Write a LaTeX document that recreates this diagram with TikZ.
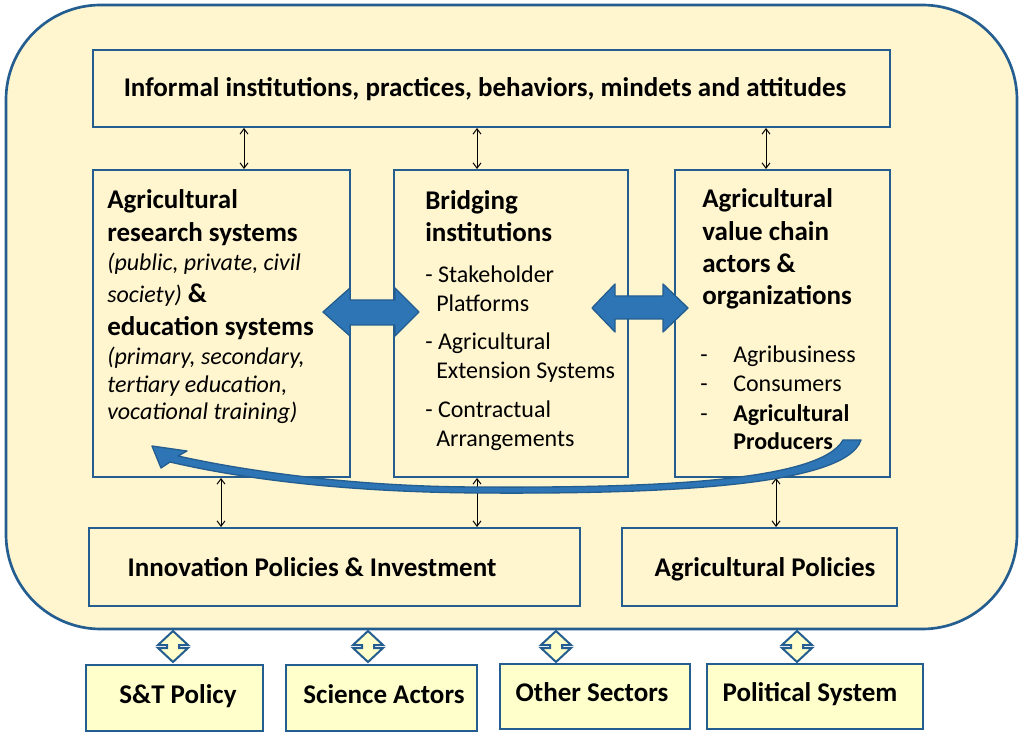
\documentclass[tikz,border=0pt]{standalone}
\usepackage{fontspec}
\setmainfont{Carlito}
\usetikzlibrary{arrows.meta,fit}
\definecolor{bgcream}{RGB}{255,245,206}
\definecolor{edgeblue}{RGB}{36,94,145}
\definecolor{lightbox}{RGB}{255,255,204}
\definecolor{arrowblue}{RGB}{46,117,182}
\newcommand\fBold{\fontsize{20.25pt}{24pt}\selectfont\bfseries}
\newcommand\fReg{\fontsize{18pt}{21pt}\selectfont}
\newcommand\fIt{\fontsize{18pt}{21pt}\selectfont\itshape}
\tikzset{
  box/.style={draw=edgeblue, line width=1.5pt, inner sep=0pt},
  extbox/.style={draw=edgeblue, line width=1.5pt, fill=lightbox, inner sep=0pt},
  txt/.style={inner sep=0pt, anchor=base west},
  ctxt/.style={inner sep=0pt, anchor=base},
  link/.style={draw=black, line width=0.75pt,
    {Straight Barb[length=4pt,width=6pt]}-{Straight Barb[length=4pt,width=6pt]}},
  blockarrow/.style={fill=arrowblue, draw=edgeblue, line width=1pt, line join=round},
  diam/.style={fill=lightbox, draw=edgeblue, line width=1.5pt, line join=miter},
}
\begin{document}
\begin{tikzpicture}[x=0.75pt,y=-0.75pt]
\useasboundingbox (0,0) rectangle (1024,737);
\fill[white] (0,0) rectangle (1024,737);

% outer frame
\node[fit={(6,5) (1017,629)}, inner sep=0pt, draw=edgeblue, line width=2pt,
      fill=bgcream, rounded corners=71pt] (outer) {};

% inner boxes
\node[box, fit={(93,50) (890,127)}] (top) {};
\node[box, fit={(93,170) (350,477)}] (lbox) {};
\node[box, fit={(394,170) (628,477)}] (mbox) {};
\node[box, fit={(675,170) (890,477)}] (rbox) {};
\node[box, fit={(89,528) (580,606)}] (innov) {};
\node[box, fit={(622,528) (897,606)}] (agpol) {};

% top text
\node[ctxt] (toptext) at (485,97) {\fBold Informal institutions, practices, behaviors, mindets and attitudes};

% left box text
\node[txt] (l1) at (107,209) {\fBold Agricultural};
\node[txt] (l2) at (107,242) {\fBold research systems};
\node[txt] (l3) at (107,271) {\fIt (public, private, civil};
\node[txt] (l4) at (107,303) {\fIt society)\upshape\fBold{} \&};
\node[txt] (l5) at (107,336) {\fBold education systems};
\node[txt] (l6) at (107,365) {\fIt (primary, secondary,};
\node[txt] (l7) at (107,393) {\fIt tertiary education,};
\node[txt] (l8) at (107,420) {\fIt vocational training)};

% middle box text
\node[txt] (m1) at (425,210) {\fBold Bridging};
\node[txt] (m2) at (425,242) {\fBold institutions};
\node[txt] (m3) at (425,283) {\fReg - Stakeholder};
\node[txt] (m4) at (436,312) {\fReg Platforms};
\node[txt] (m5) at (425,350) {\fReg - Agricultural};
\node[txt] (m6) at (436,379) {\fReg Extension Systems};
\node[txt] (m7) at (425,418) {\fReg - Contractual};
\node[txt] (m8) at (436,446) {\fReg Arrangements};

% right box text
\node[txt] (r1) at (702,208) {\fBold Agricultural};
\node[txt] (r2) at (702,241) {\fBold value chain};
\node[txt] (r3) at (702,273) {\fBold actors \&};
\node[txt] (r4) at (702,305) {\fBold organizations};
\node[txt] (rd1) at (700,363) {\fReg -};
\node[txt] (rd2) at (700,392) {\fReg -};
\node[txt] (rd3) at (700,422) {\fReg -};
\node[txt] (r5) at (733,363) {\fReg Agribusiness};
\node[txt] (r6) at (733,392) {\fReg Consumers};
\node[txt] (r7) at (733,422) {\fReg\bfseries Agricultural};
\node[txt] (r8) at (733,450) {\fReg\bfseries Producers};

% bottom inner texts
\node[ctxt] (innovtext) at (312,576) {\fBold Innovation Policies \& Investment};
\node[ctxt] (agpoltext) at (765,576) {\fBold Agricultural Policies};

% thin links
\draw[link] (top.south -| 244,0) -- (lbox.north -| 244,0);
\draw[link] (top.south -| 477,0) -- (mbox.north -| 477,0);
\draw[link] (top.south -| 766,0) -- (rbox.north -| 766,0);
\draw[link] (lbox.south -| 221,0) -- (innov.north -| 221,0);
\draw[link] (mbox.south -| 477,0) -- (innov.north -| 477,0);
\draw[link] (rbox.south -| 776,0) -- (agpol.north -| 776,0);

% block arrows
\draw[blockarrow] (323,312) -- (350,288) -- (350,300) -- (395,300) -- (395,288) -- (419,312)
  -- (395,336) -- (395,325) -- (350,325) -- (350,336) -- cycle;
\draw[blockarrow] (592,308) -- (615,284) -- (615,296) -- (663,296) -- (663,284) -- (688,308)
  -- (663,332) -- (663,319) -- (615,319) -- (615,332) -- cycle;

% curved arrow
\draw[blockarrow] (152,446) -- (187,451) -- (178,456)
  .. controls (250,472) and (360,487) .. (480,487)
  .. controls (650,488) and (820,482) .. (843,440)
  -- (861,440)
  .. controls (845,488) and (650,494) .. (480,493)
  .. controls (330,492) and (230,476) .. (170,462)
  -- (161,468) -- cycle;

% diamond double arrows
\foreach \cx in {173,368,556,797} {
  \draw[diam] (\cx,631) -- ++(15,14) -- ++(-9,0) -- ++(0,3) -- ++(9,0) -- ++(-15,14)
    -- ++(-15,-14) -- ++(9,0) -- ++(0,-3) -- ++(-9,0) -- cycle;
}

% external boxes
\node[extbox, fit={(86,665) (263,731)}] (st) {};
\node[extbox, fit={(286,665) (477,731)}] (sci) {};
\node[extbox, fit={(500,664) (690,729)}] (oth) {};
\node[extbox, fit={(707,664) (923,729)}] (pol) {};
\node[ctxt] (sttext) at (178,703) {\fBold S\&T Policy};
\node[ctxt] (scitext) at (384,703) {\fBold Science Actors};
\node[ctxt] (othtext) at (592,701) {\fBold Other Sectors};
\node[ctxt] (poltext) at (810,701) {\fBold Political System};
\end{tikzpicture}
\end{document}
